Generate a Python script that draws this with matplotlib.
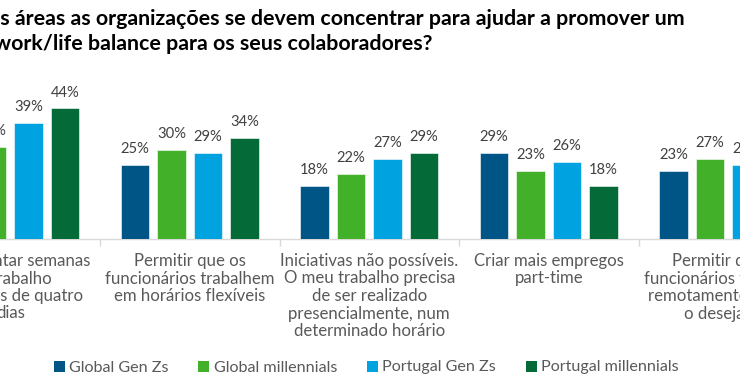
import matplotlib
matplotlib.use("Agg")
import matplotlib.pyplot as plt
from matplotlib.patches import Rectangle
from matplotlib.font_manager import FontProperties
import numpy as np

categories = [
    "Implementar semanas\nde trabalho\nreduzidas de quatro\ndias",
    "Permitir que os\nfuncionários trabalhem\nem horários flexíveis",
    "Iniciativas não possíveis.\nO meu trabalho precisa\nde ser realizado\npresencialmente, num\ndeterminado horário",
    "Criar mais empregos\npart-time",
    "Permitir que os\nfuncionários trabalhem\nremotamente quando\no desejarem",
]
series_names = ["Global Gen Zs", "Global millennials", "Portugal Gen Zs", "Portugal millennials"]
global_genz = [33, 25, 18, 29, 23]
global_mill = [31, 30, 22, 23, 27]
portugal_genz = [39, 29, 27, 26, 25]
portugal_mill = [44, 34, 29, 18, 27]
colors = ["#005587", "#43B02A", "#00A3E0", "#046A38"]

title_line1 = "Na sua opinião, em quais áreas as organizações se devem concentrar para ajudar a promover um"
title_line2 = "work/life balance para os seus colaboradores?"

W, H = 740, 389
fig = plt.figure(figsize=(W / 100, H / 100), dpi=100)
fig.patch.set_facecolor("white")
renderer = fig.canvas.get_renderer()

body_font = "Lato"
gray = "#595959"
dark = "#404040"


def text_w(text, size, weight="normal"):
    fp = FontProperties(family=body_font, weight=weight, size=size)
    w, h, d = renderer.get_text_width_height_descent(text, fp, ismath=False)
    return w


def fit_size(text, target_px, weight="normal"):
    return 10 * target_px / text_w(text, 10, weight)


# ---- axes (reference is a crop of a wider chart) ----
pitch_px = 179.5
left_px = 10.25 - pitch_px / 2
n = len(categories)
base_px = 239
px_per_pct = 2.97
ymax = 50
axes_h = px_per_pct * ymax
ax = fig.add_axes([left_px / W, (H - base_px) / H, n * pitch_px / W, axes_h / H])
ax.set_xlim(-0.5, n - 0.5)
ax.set_ylim(0, ymax)

x = np.arange(n)
bw = 28.5 / pitch_px
bp = 36.5 / pitch_px
val_size = fit_size("25%", 29)
all_series = [global_genz, global_mill, portugal_genz, portugal_mill]
for i, (vals, c) in enumerate(zip(all_series, colors)):
    pos = x + (i - 1.5) * bp
    bars = ax.bar(pos, vals, width=bw, color=c, edgecolor="white", linewidth=0.4, zorder=3)
    for b, v in zip(bars, vals):
        ax.annotate(f"{v}%", (b.get_x() + b.get_width() / 2, v), xytext=(0, 11.7 * 0.72),
                    textcoords="offset points", ha="center", va="baseline",
                    fontsize=val_size, color=dark, family=body_font, annotation_clip=False)

for s in ["top", "right", "left"]:
    ax.spines[s].set_visible(False)
ax.spines["bottom"].set_color("#D9D9D9")
ax.spines["bottom"].set_linewidth(1)
ax.set_yticks([])
ax.set_xticks(x)
ax.set_xticklabels([])
ax.tick_params(axis="x", which="major", length=0)
ax.set_xticks(np.arange(n - 1) + 0.5, minor=True)
ax.tick_params(axis="x", which="minor", length=5, color="#D9D9D9", width=1)

# category labels, one line at a time (baseline spacing like the reference)
cat_size = fit_size("funcionários trabalhem", 170)
tr = ax.get_xaxis_transform()
first_base = 266
line_step = 17.5
for i, lab in enumerate(categories):
    for k, line in enumerate(lab.split("\n")):
        ypx = first_base + k * line_step
        ax.text(i, -(ypx - base_px) / axes_h, line, transform=tr, ha="center", va="baseline",
                fontsize=cat_size, color=gray, family=body_font, clip_on=False)

# ---- title (cropped at left in the reference) ----
t_size = fit_size("s áreas as organizações se devem concentrar para ajudar a promover um", 685, weight="bold")
fig.text(685 / W, 1 - 25 / H, title_line1,
         ha="right", va="baseline", fontsize=t_size, fontweight="bold", family=body_font, color="black")
fig.text(433 / W, 1 - 50 / H, title_line2,
         ha="right", va="baseline", fontsize=t_size, fontweight="bold", family=body_font, color="black")

# ---- legend ----
leg_size = fit_size("Global Gen Zs", 100)
leg_base = 371.5
sq = 11
xcur = 54
for name, c in zip(series_names, colors):
    fig.patches.append(Rectangle((xcur / W, (H - leg_base) / H), sq / W, sq / H,
                                 transform=fig.transFigure, facecolor=c, edgecolor="none"))
    tx = xcur + sq + 4
    fig.text(tx / W, (H - leg_base) / H, name, ha="left", va="baseline",
             fontsize=leg_size, color=gray, family=body_font)
    xcur = tx + text_w(name, leg_size) + 30

fig.savefig("out.png", dpi=100, facecolor="white")
